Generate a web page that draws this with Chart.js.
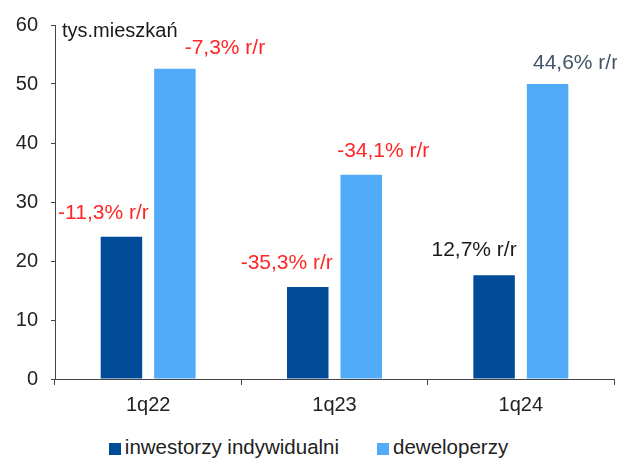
<!DOCTYPE html>
<html lang="pl">
<head>
    <meta charset="UTF-8">
    <title>Mieszkania</title>
    <script src="https://cdn.jsdelivr.net/npm/chart.js"></script>
    <style>
        body { margin: 0; background: #fff; font-family: "Liberation Sans", Arial, sans-serif; }
        #wrap { position: relative; width: 617px; height: 458px; }
        #box { position: absolute; left: 0; top: 0; width: 617px; height: 425px; }
        #legend { position: absolute; left: 0; top: 435px; width: 617px; display: flex; justify-content: center; font-size: 20.5px; color: #222; }
        #legend span.item { display: flex; align-items: center; margin: 0 19px; }
        #legend span.sw { display: inline-block; width: 12px; height: 12px; margin-right: 4px; margin-top: 3px; }
    </style>
    <script>
        const categories = ['1q22', '1q23', '1q24'];
        const seriesNames = ['inwestorzy indywidualni', 'deweloperzy'];
        const investors = [24.1, 15.6, 17.6];
        const developers = [52.6, 34.6, 50.0];
        const investorsYoY = ['-11,3% r/r', '-35,3% r/r', '12,7% r/r'];
        const developersYoY = ['-7,3% r/r', '-34,1% r/r', '44,6% r/r'];
        const yTicks = [0, 10, 20, 30, 40, 50, 60];
        const unitLabel = 'tys.mieszkań';

        const FONT = '"Liberation Sans", Arial, sans-serif';

        // label styling per bar: colour and offset from the top centre of the bar
        const labelStyle = [
            [
                { color: '#ff2626', dx: -18, dy: -24 },
                { color: '#ff2626', dx: -21, dy: -24 },
                { color: '#1a1a1a', dx: -20, dy: -25 }
            ],
            [
                { color: '#ff2626', dx: 50, dy: -20 },
                { color: '#ff2626', dx: 22, dy: -24 },
                { color: '#44546a', dx: 28, dy: -21 }
            ]
        ];

        const yoyLabels = {
            id: 'yoyLabels',
            afterDatasetsDraw(chart) {
                const ctx = chart.ctx;
                const texts = [investorsYoY, developersYoY];
                ctx.save();
                ctx.font = '21px ' + FONT;
                ctx.textAlign = 'center';
                ctx.textBaseline = 'middle';
                chart.data.datasets.forEach((ds, i) => {
                    chart.getDatasetMeta(i).data.forEach((bar, j) => {
                        const st = labelStyle[i][j];
                        ctx.fillStyle = st.color;
                        ctx.fillText(texts[i][j], bar.x + st.dx, bar.y + st.dy);
                    });
                });
                ctx.font = '20px ' + FONT;
                ctx.textAlign = 'left';
                ctx.fillStyle = '#1a1a1a';
                ctx.fillText(unitLabel, chart.chartArea.left + 7, chart.chartArea.top + 6);
                ctx.restore();
            }
        };

        document.addEventListener("DOMContentLoaded", () => {
            const ctx = document.getElementById('chart').getContext('2d');
            const chart = new Chart(ctx, {
                type: 'bar',
                data: {
                    labels: categories,
                    datasets: [{
                        label: seriesNames[0],
                        data: investors,
                        backgroundColor: '#004c99'
                    }, {
                        label: seriesNames[1],
                        data: developers,
                        backgroundColor: '#52abf8'
                    }]
                },
                options: {
                    responsive: false,
                    animation: false,
                    layout: { padding: { top: 22, right: 3, left: 0, bottom: 0 } },
                    categoryPercentage: 0.574,
                    barPercentage: 0.776,
                    plugins: {
                        legend: { display: false },
                        tooltip: { enabled: false }
                    },
                    scales: {
                        x: {
                            grid: { display: true, drawOnChartArea: false, offset: true, tickLength: 6, color: '#444' },
                            border: { color: '#444', width: 1 },
                            ticks: { color: '#222', padding: 8, font: { family: FONT, size: 20 } },
                            afterFit(scale) { scale.height = 46; }
                        },
                        y: {
                            min: 0,
                            max: 60,
                            afterBuildTicks(scale) { scale.ticks = yTicks.map(v => ({ value: v })); },
                            grid: { display: true, drawOnChartArea: false, tickLength: 4, color: '#444' },
                            border: { color: '#444', width: 1 },
                            ticks: { color: '#222', padding: 13, font: { family: FONT, size: 20 } },
                            afterFit(scale) { scale.width = 55; }
                        }
                    }
                },
                plugins: [yoyLabels]
            });

            const legend = document.getElementById('legend');
            chart.data.datasets.forEach(ds => {
                const item = document.createElement('span');
                item.className = 'item';
                const sw = document.createElement('span');
                sw.className = 'sw';
                sw.style.background = ds.backgroundColor;
                item.appendChild(sw);
                item.appendChild(document.createTextNode(ds.label));
                legend.appendChild(item);
            });
        });
    </script>
</head>
<body>
    <div id="wrap">
        <div id="box"><canvas id="chart" width="617" height="425"></canvas></div>
        <div id="legend"></div>
    </div>
</body>
</html>
